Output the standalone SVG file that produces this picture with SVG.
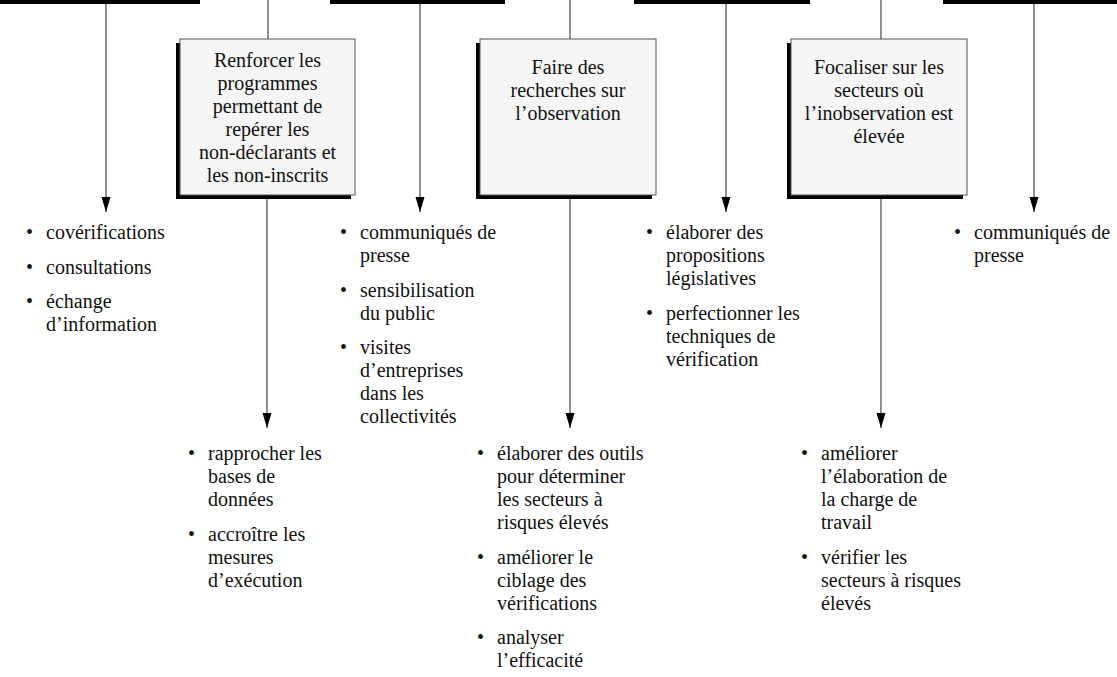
<svg xmlns="http://www.w3.org/2000/svg" width="1117" height="677" viewBox="0 0 1117 677">
<style>
  text { font-family: "Liberation Serif", "Times New Roman", serif; font-size: 20px; fill: #111; }
  .c { text-anchor: middle; }
  .b { text-anchor: middle; }
  .bar { fill: #000; }
  .box { fill: #f5f5f5; stroke: #555; stroke-width: 1; }
  .shadow { fill: #000; }
  .ln { stroke: #444; stroke-width: 1.2; fill: none; }
  .arr { stroke: #444; stroke-width: 1.2; fill: none; marker-end: url(#ah); }
</style>
<defs>
  <marker id="ah" markerUnits="userSpaceOnUse" markerWidth="16" markerHeight="10" refX="15" refY="4.5" orient="auto">
    <path d="M0,0 L15,4.5 L0,9 z" fill="#000"/>
  </marker>
</defs>
<rect width="1117" height="677" fill="#fff"/>

<g id="bars">
  <rect class="bar" x="0" y="0" width="200" height="4"/>
  <rect class="bar" x="330" y="0" width="175" height="4"/>
  <rect class="bar" x="634" y="0" width="176" height="4"/>
  <rect class="bar" x="943" y="0" width="174" height="4"/>
</g>

<g id="connectors">
  <line class="ln" x1="268" y1="0" x2="268" y2="39"/>
  <line class="ln" x1="570" y1="0" x2="570" y2="39"/>
  <line class="ln" x1="881" y1="0" x2="881" y2="39"/>
  <line class="arr" x1="106" y1="4" x2="106" y2="212"/>
  <line class="arr" x1="420" y1="4" x2="420" y2="212"/>
  <line class="arr" x1="726" y1="4" x2="726" y2="212"/>
  <line class="arr" x1="1034" y1="4" x2="1034" y2="212"/>
  <line class="arr" x1="267" y1="199" x2="267" y2="428"/>
  <line class="arr" x1="570" y1="199" x2="570" y2="428"/>
  <line class="arr" x1="881" y1="199" x2="881" y2="428"/>
</g>

<g id="box1">
  <rect class="shadow" x="176" y="43" width="175" height="156"/>
  <rect class="box" x="180" y="39" width="175" height="156"/>
  <text class="c" x="267.5" y="67">Renforcer les</text>
  <text class="c" x="267.5" y="90">programmes</text>
  <text class="c" x="267.5" y="113">permettant de</text>
  <text class="c" x="267.5" y="136">repérer les</text>
  <text class="c" x="267.5" y="159">non-déclarants et</text>
  <text class="c" x="267.5" y="182">les non-inscrits</text>
</g>

<g id="box2">
  <rect class="shadow" x="476" y="43" width="176" height="156"/>
  <rect class="box" x="480" y="39" width="176" height="156"/>
  <text class="c" x="568" y="74">Faire des</text>
  <text class="c" x="568" y="97">recherches sur</text>
  <text class="c" x="568" y="120">l’observation</text>
</g>

<g id="box3">
  <rect class="shadow" x="787" y="43" width="176" height="156"/>
  <rect class="box" x="791" y="39" width="176" height="156"/>
  <text class="c" x="879" y="74">Focaliser sur les</text>
  <text class="c" x="879" y="97">secteurs où</text>
  <text class="c" x="879" y="120">l’inobservation est</text>
  <text class="c" x="879" y="143">élevée</text>
</g>

<g id="list1">
  <text class="b" x="29.5" y="239">•</text>
  <text x="46" y="239">covérifications</text>
  <text class="b" x="29.5" y="273.5">•</text>
  <text x="46" y="273.5">consultations</text>
  <text class="b" x="29.5" y="308">•</text>
  <text x="46" y="308">échange</text>
  <text x="46" y="331">d’information</text>
</g>

<g id="list2">
  <text class="b" x="343.5" y="239">•</text>
  <text x="360" y="239">communiqués de</text>
  <text x="360" y="262">presse</text>
  <text class="b" x="343.5" y="296.5">•</text>
  <text x="360" y="296.5">sensibilisation</text>
  <text x="360" y="319.5">du public</text>
  <text class="b" x="343.5" y="354">•</text>
  <text x="360" y="354">visites</text>
  <text x="360" y="377">d’entreprises</text>
  <text x="360" y="400">dans les</text>
  <text x="360" y="423">collectivités</text>
</g>

<g id="list3">
  <text class="b" x="649.5" y="239">•</text>
  <text x="666" y="239">élaborer des</text>
  <text x="666" y="262">propositions</text>
  <text x="666" y="285">législatives</text>
  <text class="b" x="649.5" y="319.5">•</text>
  <text x="666" y="319.5">perfectionner les</text>
  <text x="666" y="342.5">techniques de</text>
  <text x="666" y="365.5">vérification</text>
</g>

<g id="list4">
  <text class="b" x="957.5" y="239">•</text>
  <text x="974" y="239">communiqués de</text>
  <text x="974" y="262">presse</text>
</g>

<g id="list5">
  <text class="b" x="191.5" y="460">•</text>
  <text x="208" y="460">rapprocher les</text>
  <text x="208" y="483">bases de</text>
  <text x="208" y="506">données</text>
  <text class="b" x="191.5" y="540.5">•</text>
  <text x="208" y="540.5">accroître les</text>
  <text x="208" y="563.5">mesures</text>
  <text x="208" y="586.5">d’exécution</text>
</g>

<g id="list6">
  <text class="b" x="480.5" y="460">•</text>
  <text x="497" y="460">élaborer des outils</text>
  <text x="497" y="483">pour déterminer</text>
  <text x="497" y="506">les secteurs à</text>
  <text x="497" y="529">risques élevés</text>
  <text class="b" x="480.5" y="563.5">•</text>
  <text x="497" y="563.5">améliorer le</text>
  <text x="497" y="586.5">ciblage des</text>
  <text x="497" y="609.5">vérifications</text>
  <text class="b" x="480.5" y="644">•</text>
  <text x="497" y="644">analyser</text>
  <text x="497" y="667">l’efficacité</text>
</g>

<g id="list7">
  <text class="b" x="804.5" y="460">•</text>
  <text x="821" y="460">améliorer</text>
  <text x="821" y="483">l’élaboration de</text>
  <text x="821" y="506">la charge de</text>
  <text x="821" y="529">travail</text>
  <text class="b" x="804.5" y="563.5">•</text>
  <text x="821" y="563.5">vérifier les</text>
  <text x="821" y="586.5">secteurs à risques</text>
  <text x="821" y="609.5">élevés</text>
</g>
</svg>
